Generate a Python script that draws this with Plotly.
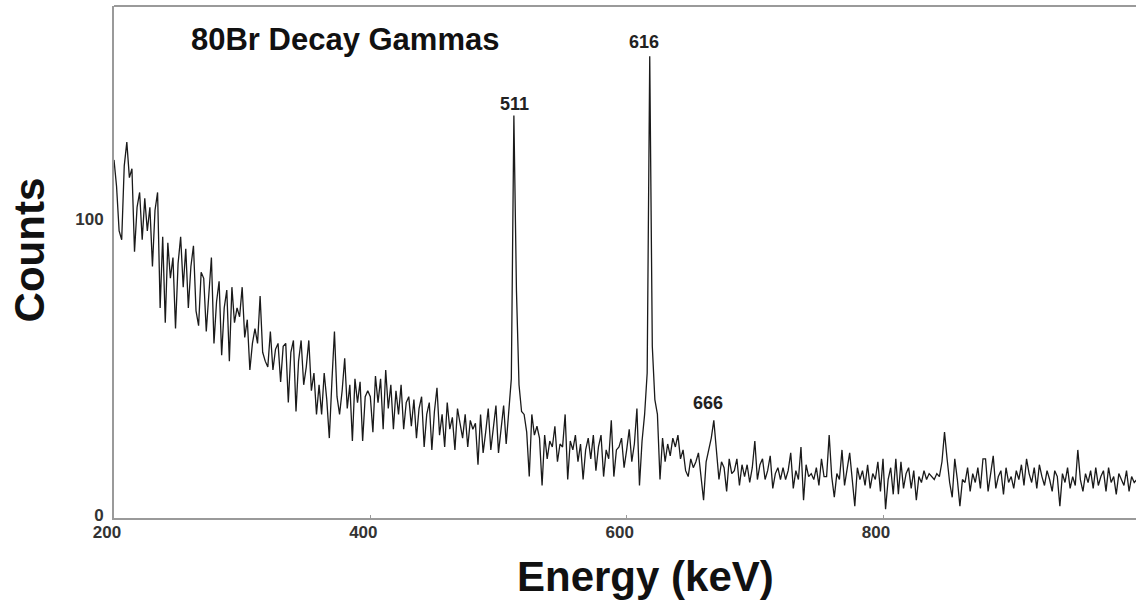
import numpy as np
import plotly.graph_objects as go

# Energy bins (keV), 2 keV wide
energy = list(range(200, 1000, 2))

counts = [
    # 200-238
    120, 111, 96, 93, 118, 126, 114, 117, 89, 104, 109, 93, 107, 96, 104, 84, 103, 109, 70, 94,
    # 240-278
    65, 92, 80, 87, 63, 85, 94, 77, 90, 70, 84, 91, 69, 64, 82, 80, 62, 75, 87, 58,
    # 280-318
    72, 79, 54, 70, 76, 52, 77, 65, 70, 67, 77, 60, 66, 49, 58, 63, 58, 74, 55, 52,
    # 320-358
    50, 62, 49, 56, 58, 45, 57, 58, 38, 55, 59, 35, 52, 59, 44, 50, 59, 42, 48, 34,
    # 360-398
    44, 34, 48, 39, 26, 45, 62, 40, 34, 42, 53, 36, 44, 25, 46, 38, 45, 25, 40, 42,
    # 400-438
    40, 28, 47, 38, 46, 29, 49, 36, 44, 29, 42, 34, 44, 29, 38, 40, 30, 39, 26, 36,
    # 440-478
    40, 23, 34, 38, 22, 35, 43, 27, 34, 23, 38, 29, 33, 22, 36, 31, 26, 34, 23, 32,
    # 480-518
    29, 31, 17, 34, 21, 28, 36, 22, 30, 37, 21, 30, 37, 24, 34, 46, 135, 76, 44, 35,
    # 520-558
    34, 28, 13, 34, 27, 30, 26, 10, 27, 19, 25, 23, 30, 18, 24, 23, 34, 12, 25, 22,
    # 560-598
    27, 18, 24, 12, 22, 26, 19, 27, 15, 23, 27, 13, 22, 19, 32, 13, 22, 23, 26, 16,
    # 600-638
    22, 29, 18, 24, 36, 10, 25, 34, 48, 155, 57, 39, 34, 12, 26, 18, 24, 20, 26, 23,
    # 640-678
    27, 19, 22, 15, 13, 19, 16, 18, 21, 13, 5, 18, 22, 26, 32, 23, 12, 18, 16, 8,
    # 680-718
    19, 14, 15, 19, 10, 17, 13, 17, 11, 16, 25, 12, 17, 19, 12, 15, 20, 9, 14, 16,
    # 720-758
    12, 16, 12, 15, 21, 9, 15, 12, 23, 5, 17, 13, 14, 12, 16, 10, 19, 13, 13, 27,
    # 760-798
    13, 6, 14, 12, 22, 10, 16, 21, 12, 3, 16, 12, 15, 10, 17, 9, 14, 12, 18, 8,
    # 800-838
    19, 2, 12, 16, 7, 19, 7, 18, 9, 14, 16, 9, 15, 5, 13, 11, 15, 12, 14, 13,
    # 840-878
    12, 14, 13, 18, 28, 19, 11, 6, 19, 12, 3, 12, 11, 16, 8, 14, 11, 16, 9, 19,
    # 880-918
    19, 8, 14, 20, 9, 13, 15, 7, 16, 11, 13, 9, 15, 12, 17, 10, 19, 14, 11, 16,
    # 920-958
    9, 17, 13, 10, 15, 12, 8, 15, 13, 3, 14, 11, 16, 9, 13, 10, 22, 12, 8, 14,
    # 960-998
    11, 15, 9, 16, 10, 13, 15, 8, 16, 11, 13, 7, 14, 12, 10, 15, 8, 13, 11, 12,
]

x_ticks = [200, 400, 600, 800]
y_ticks = [0, 100]

peak_labels = ["511", "616", "666"]
peak_label_x = [512.5, 613.5, 663.5]
peak_label_y = [139, 160, 38]

title_text = "80Br Decay Gammas"
x_title = "Energy (keV)"
y_title = "Counts"

FONT = "Liberation Sans, Arial, Helvetica, sans-serif"

fig = go.Figure()
fig.add_trace(go.Scatter(
    x=energy, y=counts, mode="lines",
    line=dict(color="#1a1a1a", width=1.3),
    showlegend=False, hoverinfo="skip",
))

annotations = []
for t, px, py in zip(peak_labels, peak_label_x, peak_label_y):
    annotations.append(dict(
        x=px, y=py, xref="x", yref="y", text=t, showarrow=False,
        font=dict(family=FONT, size=18, color="#222", weight="bold"),
        xanchor="center", yanchor="middle",
    ))
annotations.append(dict(
    x=0.226, y=0.934, xref="paper", yref="paper", text=title_text, showarrow=False,
    font=dict(family=FONT, size=31, color="#111", weight="bold"),
    xanchor="center", yanchor="middle",
))
annotations.append(dict(
    x=-0.083, y=0.523, xref="paper", yref="paper", text=y_title, showarrow=False,
    textangle=-90,
    font=dict(family=FONT, size=42, color="#111", weight="bold"),
    xanchor="center", yanchor="middle",
))
annotations.append(dict(
    x=0.5196, y=-0.115, xref="paper", yref="paper", text=x_title, showarrow=False,
    font=dict(family=FONT, size=42, color="#111", weight="bold"),
    xanchor="center", yanchor="middle",
))

fig.update_layout(
    width=1136, height=606,
    margin=dict(l=114, r=0, t=6, b=88),
    paper_bgcolor="white", plot_bgcolor="white",
    annotations=annotations,
    shapes=[dict(type="line", xref="paper", yref="paper", x0=0, x1=1, y0=1, y1=1,
                 line=dict(color="#9a9a9a", width=2))],
)
fig.update_xaxes(
    range=[200, 997.4], tickvals=x_ticks, ticktext=[str(v) for v in x_ticks],
    showgrid=False, zeroline=False, showline=True, linecolor="#9a9a9a", linewidth=2,
    ticks="inside", ticklen=3, tickcolor="#9a9a9a",
    tickfont=dict(family=FONT, size=17, color="#333", weight="bold"),
    ticklabelshift=-7, ticklabelstandoff=-2,
)
fig.update_yaxes(
    range=[-1, 172], tickvals=y_ticks, ticktext=[str(v) for v in y_ticks],
    showgrid=False, zeroline=False, showline=True, linecolor="#9a9a9a", linewidth=2,
    ticks="", tickfont=dict(family=FONT, size=17, color="#333", weight="bold"),
    ticklabelstandoff=5,
)

fig.write_html("out.html")
